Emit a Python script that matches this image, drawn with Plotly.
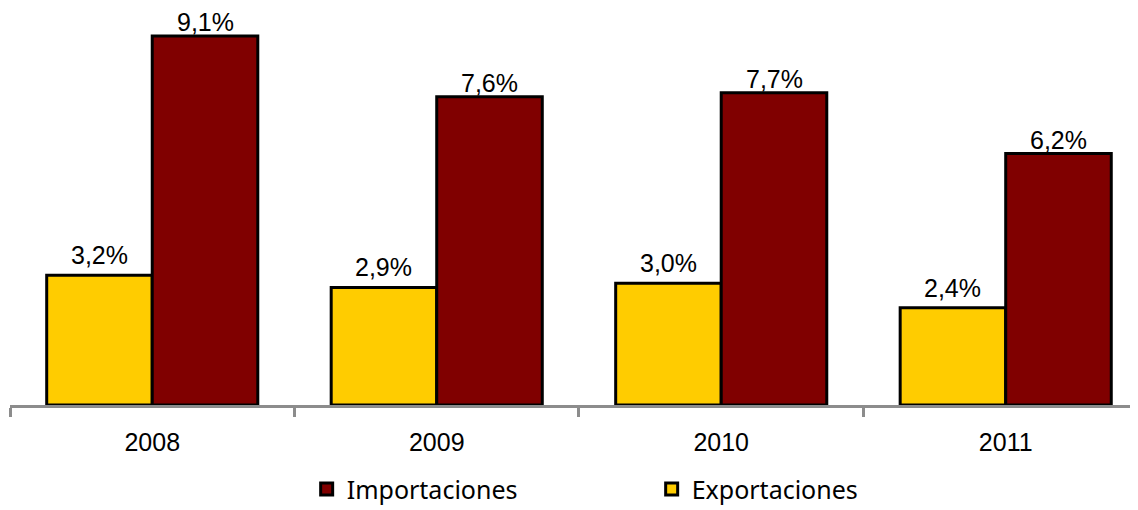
import plotly.graph_objects as go

years = ["2008", "2009", "2010", "2011"]
exportaciones = [3.2, 2.9, 3.0, 2.4]
importaciones = [9.1, 7.6, 7.7, 6.2]

BARGAP = 0.258

def fmt(x):
    return f"{x:.1f}".replace(".", ",") + "%"

label_font = dict(family="Liberation Sans, Arial, sans-serif", size=25, color="black")

fig = go.Figure()
fig.add_trace(go.Bar(
    name="Exportaciones", x=years, y=exportaciones,
    marker=dict(color="#FFCC00", line=dict(color="black", width=3)),
))
fig.add_trace(go.Bar(
    name="Importaciones", x=years, y=importaciones,
    marker=dict(color="#800000", line=dict(color="black", width=3)),
))

# value labels above each bar (bar centres derived from the group layout)
off = (1 - BARGAP) / 4
for i, v in enumerate(exportaciones):
    fig.add_annotation(x=i - off, y=v, xref="x", yref="y", text=fmt(v),
                       showarrow=False, yanchor="bottom", yshift=4, font=label_font)
for i, v in enumerate(importaciones):
    fig.add_annotation(x=i + off, y=v, xref="x", yref="y", text=fmt(v),
                       showarrow=False, yanchor="bottom", yshift=-2, font=label_font)

fig.update_layout(
    width=1130, height=502,
    margin=dict(l=2, r=0, t=0, b=105, autoexpand=False),
    plot_bgcolor="white", paper_bgcolor="white",
    barmode="group", bargap=BARGAP, bargroupgap=0,
    showlegend=True,
    legend=dict(
        orientation="h", traceorder="reversed",
        x=0.263, xanchor="left", y=-0.212, yanchor="middle",
        font=dict(family="Noto Sans, sans-serif", size=25, color="black"),
        entrywidth=300,
    ),
)
fig.update_xaxes(
    type="category", range=[-0.5, 3.465], automargin=False,
    showline=True, linecolor="#8c8c8c", linewidth=3,
    ticks="outside", tickson="boundaries", ticklen=9, tickwidth=3, tickcolor="#8c8c8c",
    tickfont=label_font, ticklabelstandoff=13,
    showgrid=False, zeroline=False,
)
fig.update_yaxes(
    range=[0, 9.79], visible=False, showgrid=False, zeroline=False,
)

fig.write_html("out.html")
